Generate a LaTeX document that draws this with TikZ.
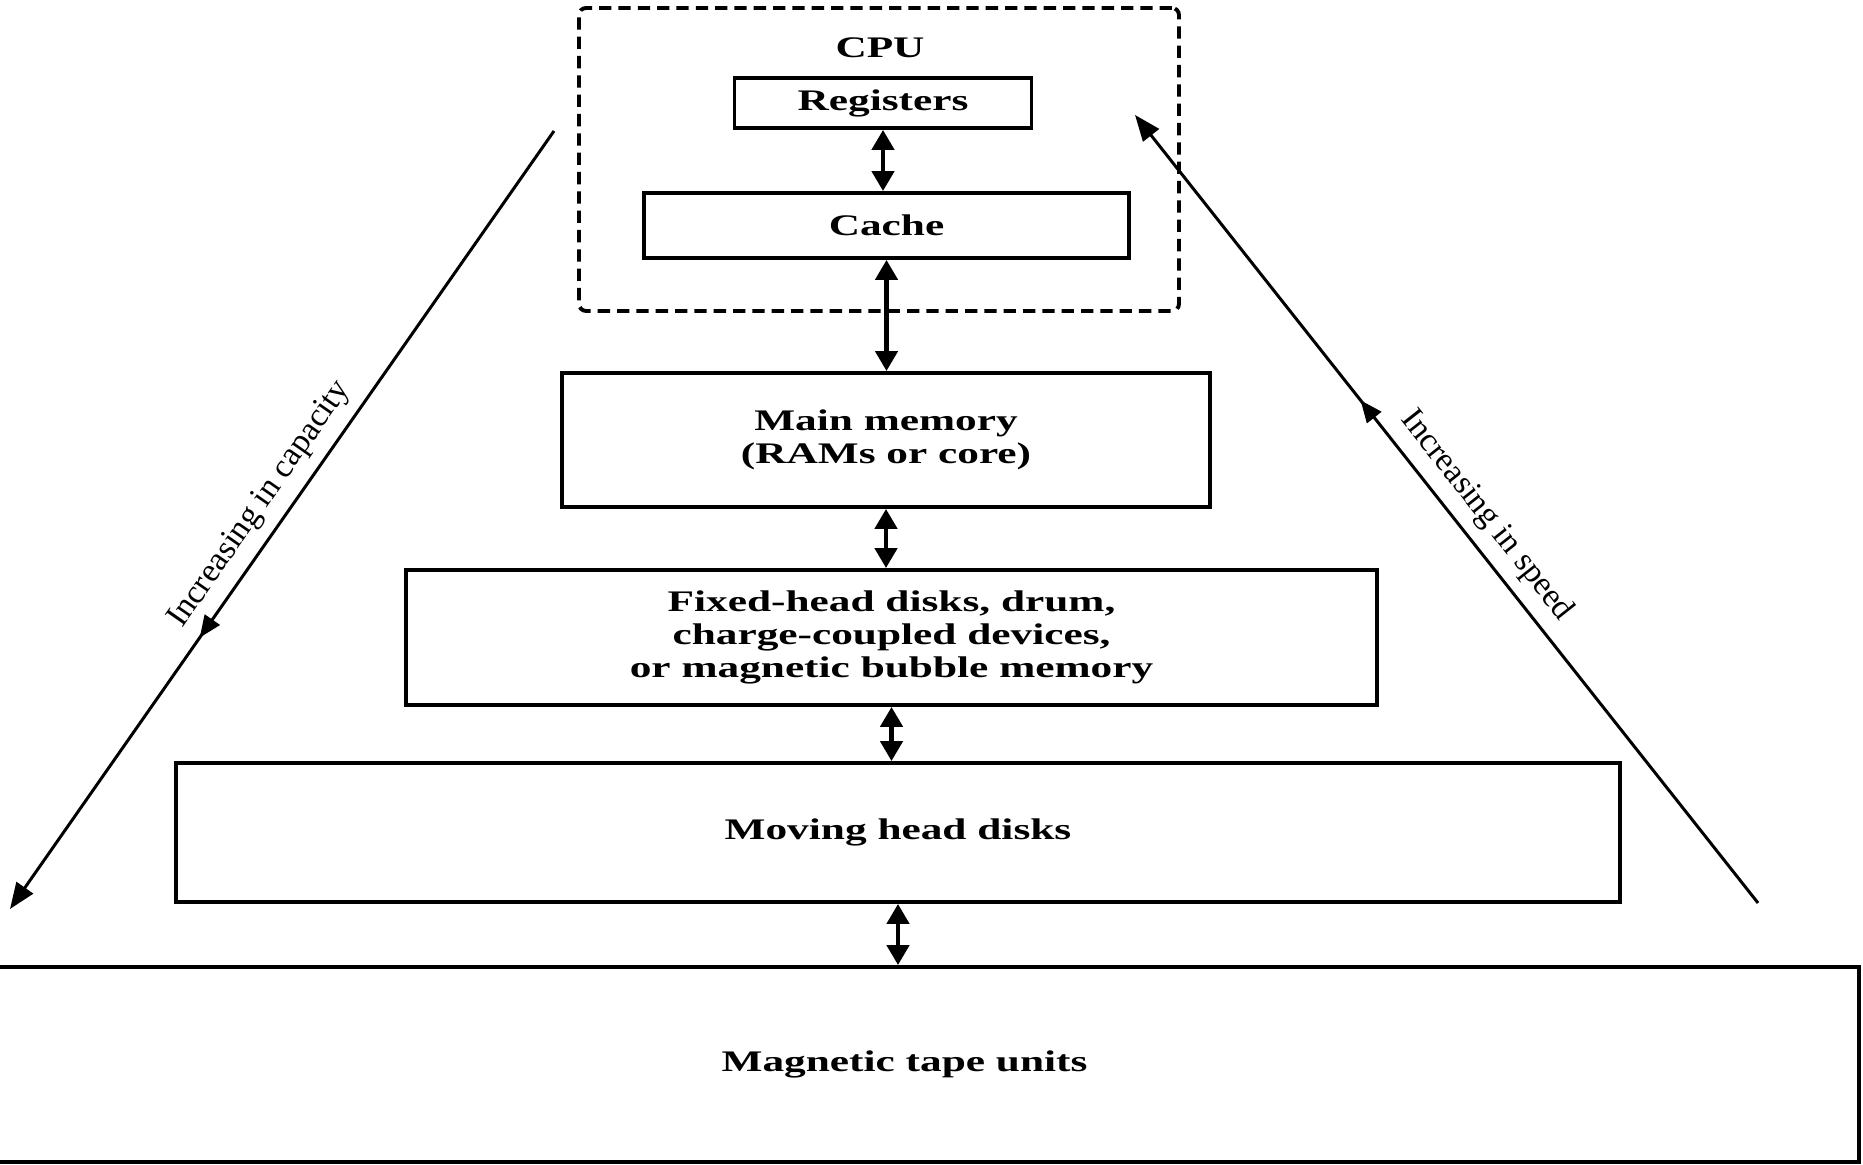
\documentclass[tikz,border=0pt]{standalone}
\usepackage{fontspec}
\setmainfont{Liberation Serif}
\newfontfamily\boxfont[FakeStretch=1.45]{Liberation Serif}
\usetikzlibrary{
  arrows.meta,
  decorations.markings
}

\begin{document}
\begin{tikzpicture}[
    level/.style = {draw, line width=1.1pt, align=center, inner sep=0pt,
      font=\boxfont\bfseries\fontsize{8.5}{9.5}\selectfont},
    cpubox/.style = {draw, line width=1.1pt, dash pattern=on 3.5pt off 2pt,
      rounded corners=2pt},
    link/.style = {{Triangle[length=2mm,width=2.2mm]}-{Triangle[length=2mm,width=2.2mm]},
      line width=1.3pt},
    trend/.style = {line width=0.85pt, {Triangle[length=2.6mm,width=2mm]}-,
      postaction={decorate}},
    trendlabel/.style = {sloped, above=2pt, inner sep=1pt,
      font=\fontsize{9.5}{11}\selectfont}]
  \useasboundingbox (0,0) rectangle (18.63,11.64);
  \node (cpu) [cpubox, minimum width=6cm, minimum height=3.03cm] at (8.79,10.045) {};
  \node (cpuname) [font=\boxfont\bfseries\fontsize{8.5}{9.5}\selectfont] at (8.8,11.16) {CPU};
  \node (reg) [level, minimum width=2.97cm, minimum height=0.5cm] at (8.83,10.61) {Registers};
  \node (cache) [level, minimum width=4.85cm, minimum height=0.65cm] at (8.865,9.385) {Cache};
  \node (main) [level, minimum width=6.48cm, minimum height=1.34cm] at (8.86,7.24)
    {Main memory\\(RAMs or core)};
  \node (fixed) [level, minimum width=9.71cm, minimum height=1.35cm] at (8.915,5.265)
    {Fixed-head disks, drum,\\charge-coupled devices,\\or magnetic bubble memory};
  \node (moving) [level, minimum width=14.44cm, minimum height=1.39cm] at (8.98,3.315)
    {Moving head disks};
  \node (tape) [level, minimum width=19.09cm, minimum height=1.95cm] at (9.045,0.995)
    {Magnetic tape units};
  \draw[link] (reg.south) -- (reg.south |- cache.north);
  \draw[link] (cache.south) -- (cache.south |- main.north);
  \draw[link] (main.south) -- (main.south |- fixed.north);
  \draw[link] (fixed.south) -- (fixed.south |- moving.north);
  \draw[link] (moving.south) -- (moving.south |- tape.north);
  \coordinate (capTop) at (5.54,10.33);
  \coordinate (capBot) at (0.10,2.55);
  \coordinate (spdTop) at (11.35,10.49);
  \coordinate (spdBot) at (17.58,2.61);
  \draw[trend, decoration={markings, mark=at position 0.372 with
      {\arrow{Triangle[reversed,length=2.2mm,width=1.8mm]}}}]
    (capBot) -- (capTop) node[trendlabel, pos=0.5] {Increasing in capacity};
  \draw[trend, decoration={markings, mark=at position 0.384 with
      {\arrow{Triangle[reversed,length=2.2mm,width=1.8mm]}}}]
    (spdTop) -- (spdBot) node[trendlabel, pos=0.53] {Increasing in speed};
\end{tikzpicture}
\end{document}
